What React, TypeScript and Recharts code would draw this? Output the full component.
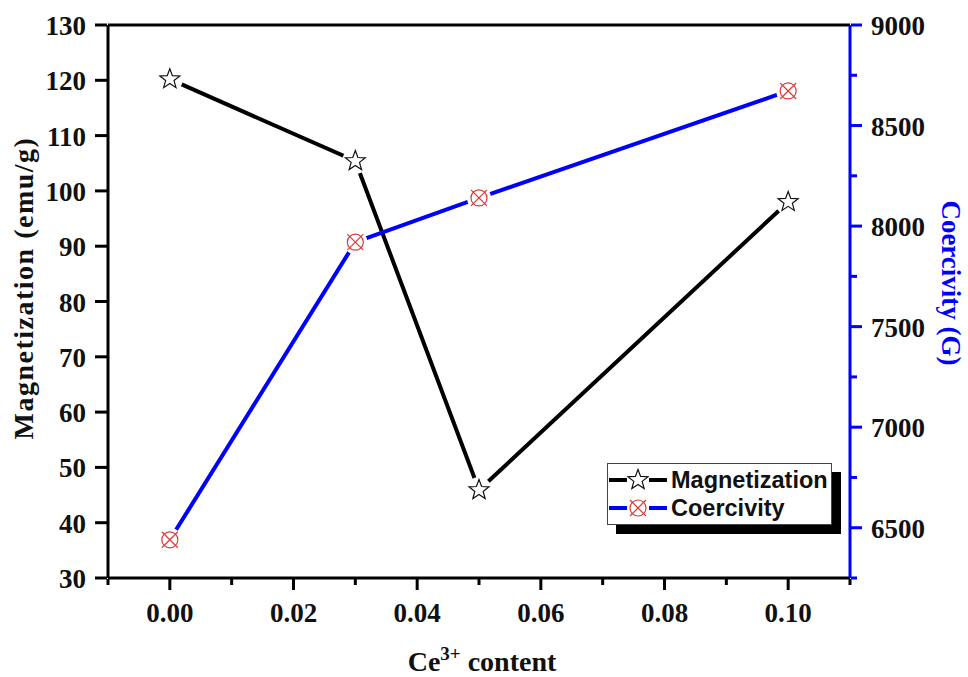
import React from "react";
import { LineChart, Line, XAxis, YAxis, ReferenceLine } from "recharts";

const ceContent = [0.0, 0.03, 0.05, 0.1];
const magnetization = [120.2, 105.4, 45.9, 98.0];
const coercivity = [6440, 7920, 8140, 8672];

const xTicks = [-0.01, 0, 0.01, 0.02, 0.03, 0.04, 0.05, 0.06, 0.07, 0.08, 0.09, 0.1, 0.11];
const leftTicks = [30, 40, 50, 60, 70, 80, 90, 100, 110, 120, 130];
const rightTicks = [6250, 6500, 6750, 7000, 7250, 7500, 7750, 8000, 8250, 8500, 8750, 9000];

const chartData = ceContent.map((x, i) => ({
  x,
  mag: magnetization[i],
  coer: coercivity[i],
}));

const serif = "'Liberation Serif', 'Times New Roman', serif";
const sans = "'Liberation Sans', Arial, sans-serif";

const starPath = (cx: number, cy: number, ro: number, ri: number) => {
  let d = "";
  for (let k = 0; k < 10; k++) {
    const r = k % 2 === 0 ? ro : ri;
    const a = -Math.PI / 2 + (k * Math.PI) / 5;
    d += (k === 0 ? "M" : "L") + (cx + r * Math.cos(a)).toFixed(2) + "," + (cy + r * Math.sin(a)).toFixed(2);
  }
  return d + "Z";
};

const StarMark = ({ cx, cy, gap = true }: any) => (
  <g>
    {gap && <circle cx={cx} cy={cy} r={13} fill="#fff" />}
    <path d={starPath(cx, cy, 10.5, 4.4)} fill="#fff" stroke="#111" strokeWidth={1.2} />
  </g>
);

const CrossCircle = ({ cx, cy, gap = true }: any) => (
  <g>
    {gap && <circle cx={cx} cy={cy} r={12} fill="#fff" />}
    <circle cx={cx} cy={cy} r={8} fill="#fff" stroke="#d83a3a" strokeWidth={1.2} />
    <line x1={cx - 8} y1={cy - 8} x2={cx + 8} y2={cy + 8} stroke="#d83a3a" strokeWidth={1.2} />
    <line x1={cx - 8} y1={cy + 8} x2={cx + 8} y2={cy - 8} stroke="#d83a3a" strokeWidth={1.2} />
  </g>
);

const XTick = ({ x, y, payload }: any) => {
  const v = payload.value;
  const h = Math.round(v * 100);
  const major = h % 2 === 0 && h >= 0 && h <= 10;
  return (
    <g>
      <line x1={x} y1={y - 7} x2={x} y2={y + (major ? 4 : -1)} stroke="#000" strokeWidth={3} />
      {major && (
        <text x={x} y={y + 36} textAnchor="middle" fontFamily={serif} fontWeight="bold" fontSize={27} fill="#111">
          {v.toFixed(2)}
        </text>
      )}
    </g>
  );
};

const LeftTick = ({ x, y, payload }: any) => (
  <g>
    <line x1={x - 5} y1={y} x2={x + 7} y2={y} stroke="#000" strokeWidth={3} />
    <text x={x - 14} y={y + 10} textAnchor="end" fontFamily={serif} fontWeight="bold" fontSize={27} fill="#111">
      {payload.value}
    </text>
  </g>
);

const RightTick = ({ x, y, payload }: any) => {
  const major = payload.value % 500 === 0;
  return (
    <g>
      <line x1={x - 7} y1={y} x2={x + (major ? 4 : -1)} y2={y} stroke="#0000ff" strokeWidth={3} />
      {major && (
        <text x={x + 13} y={y + 10} textAnchor="start" fontFamily={serif} fontWeight="bold" fontSize={27} fill="#111">
          {payload.value}
        </text>
      )}
    </g>
  );
};

const legendItems = [
  { name: "Magnetization", color: "#000", Mark: StarMark },
  { name: "Coercivity", color: "#0000ff", Mark: CrossCircle },
];

const LegendBox = () => (
  <div
    style={{
      position: "absolute",
      left: 607,
      top: 463,
      width: 223,
      height: 58,
      border: "1px solid #444",
      background: "#fff",
      boxShadow: "9px 9px 0 #000",
      fontFamily: sans,
      fontWeight: "bold",
      fontSize: 23.5,
      color: "#111",
      paddingTop: 2,
      boxSizing: "content-box",
    }}
  >
    {legendItems.map(({ name, color, Mark }) => (
      <div key={name} style={{ display: "flex", alignItems: "center", height: 28 }}>
        <svg width={60} height={28}>
          <line x1={1} y1={14} x2={59} y2={14} stroke={color} strokeWidth={4} />
          <rect x={19} y={4} width={22} height={20} fill="#fff" />
          <Mark cx={30} cy={14} gap={false} />
        </svg>
        <span style={{ marginLeft: 3, lineHeight: "28px" }}>{name}</span>
      </div>
    ))}
  </div>
);

const Titles = () => (
  <svg width={968} height={677} style={{ position: "absolute", left: 0, top: 0, pointerEvents: "none" }}>
    <text x={482} y={671} textAnchor="middle" fontFamily={serif} fontWeight="bold" fontSize={28} fill="#111">
      Ce<tspan dy={-11} fontSize={19}>3+</tspan>
      <tspan dy={11}> content</tspan>
    </text>
    <text
      x={23}
      y={288}
      textAnchor="middle"
      dominantBaseline="central"
      transform="rotate(-90 23 288)"
      fontFamily={serif}
      fontWeight="bold"
      fontSize={28}
      letterSpacing={1.5}
      fill="#111"
    >
      Magnetization (emu/g)
    </text>
    <text
      x={951}
      y={283}
      textAnchor="middle"
      dominantBaseline="central"
      transform="rotate(90 951 283)"
      fontFamily={serif}
      fontWeight="bold"
      fontSize={27}
      fill="#0000ff"
    >
      Coercivity (G)
    </text>
  </svg>
);

export default function App() {
  return (
    <div style={{ width: 968, height: 677, position: "relative", background: "#fff" }}>
      <style>{`body{margin:0}`}</style>
      <LineChart width={968} height={677} data={chartData} margin={{ top: 25, right: 0, left: 0, bottom: 0 }}>
        <XAxis
          dataKey="x"
          type="number"
          domain={[-0.01, 0.11]}
          ticks={xTicks}
          interval={0}
          height={99}
          axisLine={{ stroke: "#000", strokeWidth: 3 }}
          tickLine={false}
          tick={<XTick />}
        />
        <YAxis
          yAxisId="left"
          domain={[30, 130]}
          ticks={leftTicks}
          interval={0}
          width={108}
          axisLine={{ stroke: "#000", strokeWidth: 3 }}
          tickLine={false}
          tick={<LeftTick />}
        />
        <YAxis
          yAxisId="right"
          orientation="right"
          domain={[6250, 9000]}
          ticks={rightTicks}
          interval={0}
          width={118}
          axisLine={{ stroke: "#0000ff", strokeWidth: 3 }}
          tickLine={false}
          tick={<RightTick />}
        />
        <ReferenceLine yAxisId="left" y={130} stroke="#000" strokeWidth={3} />
        <Line
          yAxisId="left"
          dataKey="mag"
          name="Magnetization"
          stroke="#000"
          strokeWidth={4}
          dot={(p: any) => <StarMark key={"m" + p.index} cx={p.cx} cy={p.cy} />}
          activeDot={false}
          isAnimationActive={false}
        />
        <Line
          yAxisId="right"
          dataKey="coer"
          name="Coercivity"
          stroke="#0000ff"
          strokeWidth={4}
          dot={(p: any) => <CrossCircle key={"c" + p.index} cx={p.cx} cy={p.cy} />}
          activeDot={false}
          isAnimationActive={false}
        />
      </LineChart>
      <LegendBox />
      <Titles />
    </div>
  );
}
